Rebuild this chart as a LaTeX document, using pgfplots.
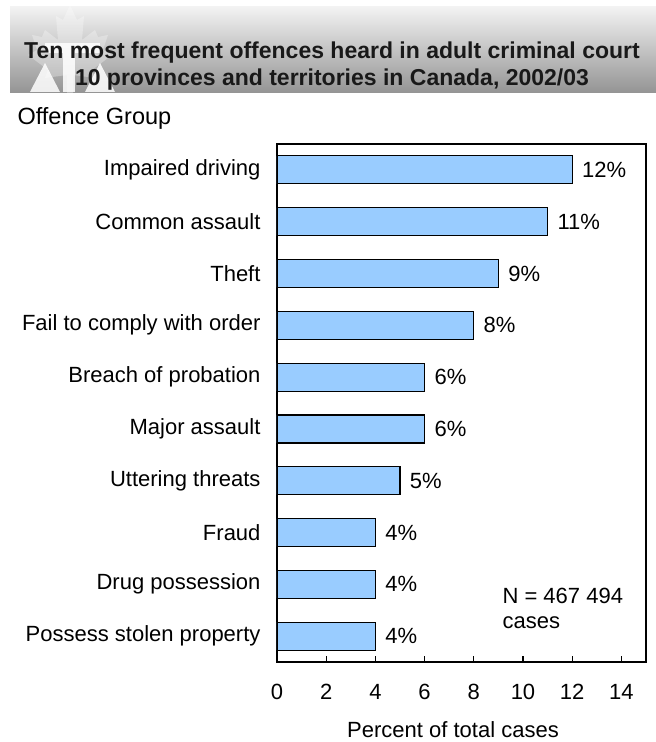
\documentclass[border=0pt]{standalone}
\usepackage{fontspec}
\setmainfont{Liberation Sans}
\usepackage{pgfplots}
\pgfplotsset{compat=1.18}
\definecolor{barblue}{HTML}{99CCFF}
\newcommand{\lbl}{\fontsize{22}{26}\selectfont}
\begin{document}
\begin{tikzpicture}
\begin{scope}[x=1pt,y=1pt]
\path[use as bounding box] (0,0) rectangle (656,742);
% banner
\shade[top color=black!5, bottom color=black!42] (10,735) rectangle (656,649);
% maple leaf watermark
\fill[white,opacity=0.3] (70,737) -- (63,722) -- (56,726) -- (58,702) -- (45,712) -- (42,705) -- (32,707) -- (37,692) -- (28,687) -- (48,672) -- (45,664) -- (67,667) -- (67,649) -- (73,649) -- (73,667) -- (95,664) -- (92,672) -- (112,687) -- (103,692) -- (108,707) -- (98,705) -- (95,712) -- (82,702) -- (84,726) -- (77,722) -- cycle;
\fill[white,opacity=0.85] (45,699) rectangle (100,689);
\fill[white,opacity=0.85] (63,689) rectangle (75,650);
\fill[white,opacity=0.85] (30,650) -- (45,679) -- (60,650) -- cycle;
\fill[white,opacity=0.85] (85,650) -- (100,679) -- (115,650) -- cycle;
\node[font=\bfseries\fontsize{23}{27}\selectfont, align=center, text=black!90] at (332,676) {Ten most frequent offences heard in adult criminal court\\10 provinces and territories in Canada, 2002/03};
\node[anchor=west, font=\fontsize{23.5}{27}\selectfont] at (14,624) {Offence Group};
\node[anchor=west, font=\lbl] at (499,146) {N = 467 494};
\node[anchor=west, font=\lbl] at (499,119) {cases};
\node[font=\lbl] at (453,12) {Percent of total cases};
\end{scope}
\begin{axis}[
  at={(277pt,80pt)}, anchor=south west,
  scale only axis, width=369pt, height=518pt,
  xmin=0, xmax=15, ymin=-0.5, ymax=9.5, y dir=reverse,
  xbar, bar width=28pt,
  xtick={0,2,...,14}, xtick pos=bottom, xtick align=inside,
  major tick length=6pt,
  ytick={0,...,9}, ytick style={draw=none},
  yticklabels={Impaired driving,Common assault,Theft,Fail to comply with order,Breach of probation,Major assault,Uttering threats,Fraud,Drug possession,Possess stolen property},
  tick label style={font=\lbl},
  /pgf/number format/assume math mode=true,
  xticklabel style={yshift=-19pt},
  yticklabel style={xshift=-7pt},
  axis line style={line width=1.3pt},
  tick style={black, line width=1.1pt},
  nodes near coords={\pgfmathprintnumber{\pgfplotspointmeta}\%},
  nodes near coords style={font=\lbl, anchor=west, xshift=6pt},
]
\addplot[fill=barblue, draw=black, line width=1.2pt] coordinates {
(12,0) (11,1) (9,2) (8,3) (6,4) (6,5) (5,6) (4,7) (4,8) (4,9)};
\end{axis}
\end{tikzpicture}
\end{document}
